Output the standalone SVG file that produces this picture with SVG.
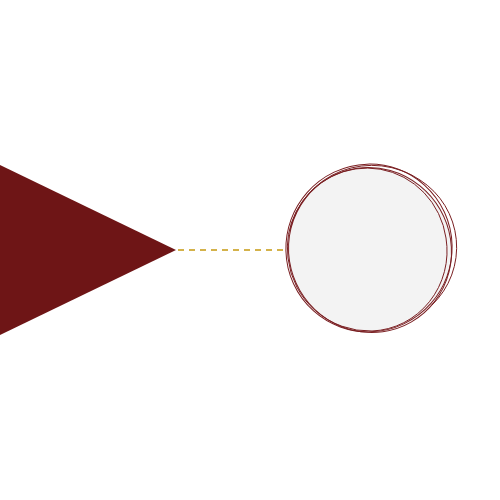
<svg xmlns="http://www.w3.org/2000/svg" width="500" height="500" viewBox="0 0 500 500">
<style>
.sk{fill:none;stroke:#7a1f22;stroke-width:1}
</style>
<rect width="500" height="500" fill="#ffffff"/>
<g id="triangle">
<polygon points="0,165 176,250 0,335" fill="#6e1516"/>
</g>
<g id="connectors">
<line x1="178" y1="250" x2="284" y2="250" stroke="#d4b24a" stroke-width="2" stroke-dasharray="6,5"/>
</g>
<g id="circle">
<ellipse cx="369" cy="249" rx="82" ry="82" fill="#f3f3f3"/>
<ellipse class="sk" cx="369" cy="248" rx="83" ry="84" transform="rotate(20 369 248)"/>
<ellipse class="sk" cx="370" cy="250" rx="81" ry="83" transform="rotate(-30 370 250)"/>
<path class="sk" d="M296,212 A80,82 0 0 1 446,238 A78,80 0 0 1 372,331 A82,82 0 0 1 288,258 A80,80 0 0 1 296,212"/>
<path class="sk" d="M290,230 A84,82 0 0 1 420,180 A80,80 0 0 1 432,305"/>
</g>
</svg>
